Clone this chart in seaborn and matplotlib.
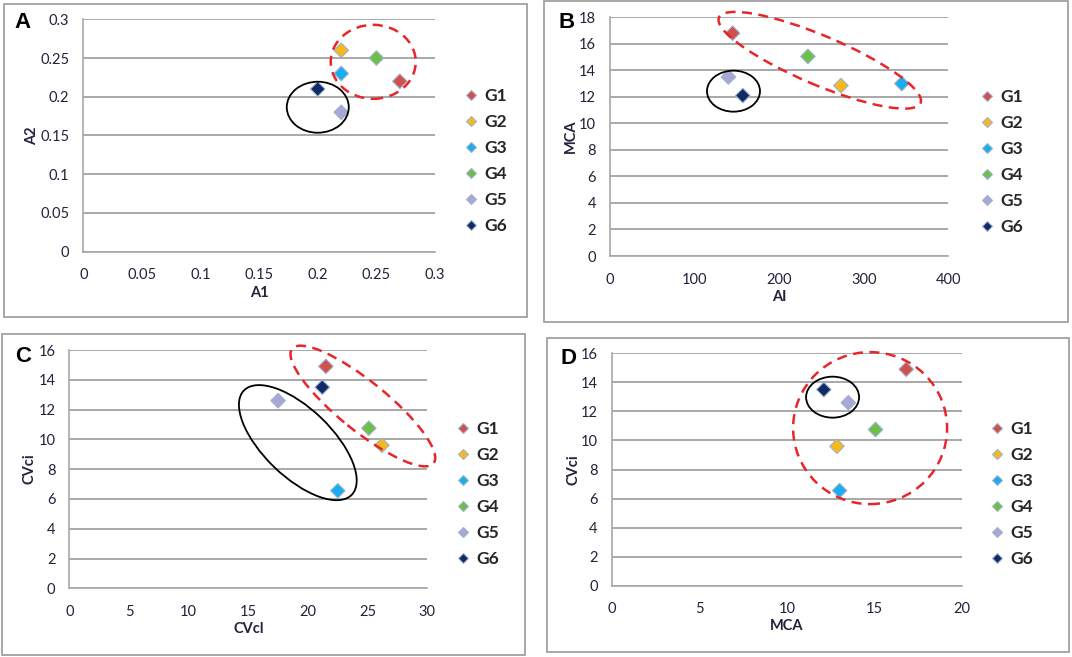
# Four scatter panels of group means with cluster ellipses
import matplotlib
matplotlib.use("Agg")
import matplotlib.pyplot as plt
import seaborn as sns
import pandas as pd
from matplotlib.patches import Ellipse, Rectangle
from matplotlib.transforms import IdentityTransform

# Data
groups = ["G1", "G2", "G3", "G4", "G5", "G6"]
a1 = [0.27, 0.22, 0.22, 0.25, 0.22, 0.20]
a2 = [0.22, 0.26, 0.23, 0.25, 0.18, 0.21]
ai = [145, 273, 345, 234, 140, 157]
mca = [16.8, 12.85, 13.0, 15.05, 13.5, 12.1]
cvcl = [21.5, 26.2, 22.5, 25.1, 17.5, 21.2]
cvci = [14.9, 9.6, 6.55, 10.75, 12.6, 13.5]

colors = ["#D0504D", "#F6B81A", "#1AADEE", "#6CC04A", "#A9A6D8", "#0F2A66"]

df = pd.DataFrame({"group": groups, "A1": a1, "A2": a2, "AI": ai,
                   "MCA": mca, "CVcl": cvcl, "CVci": cvci})

sns.set_style("white")
plt.rcParams["font.family"] = ["Lato", "DejaVu Sans"]

W, H = 1072, 657
fig = plt.figure(figsize=(W / 100, H / 100), dpi=100)

tick_color = "#22223a"
grid_color = "#a8a8a8"


def px_axes(l, t, r, b):
    return fig.add_axes([l / W, (H - b) / H, (r - l) / W, (b - t) / H])


def box(l, t, r, b):
    fig.patches.append(Rectangle((l / W, (H - b) / H), (r - l) / W, (b - t) / H,
                                 transform=fig.transFigure, fill=False,
                                 edgecolor="#a0a0a0", linewidth=1.3))


def ellipse(ax, cx, cy, w, h, ang, color, ls, lw):
    # size given in pixels so the tilt is not distorted by the axes aspect
    x, y = ax.transData.transform((cx, cy))
    e = Ellipse((x, y), w, h, angle=ang, transform=IdentityTransform(),
                fill=False, edgecolor=color, linestyle=ls, linewidth=lw,
                clip_on=False, zorder=5)
    fig.add_artist(e)


def panel(rect, xcol, ycol, xlim, ylim, xticks, yticks, fmt,
          letter, letter_xy, leg_xy, xlab_y, ylab_x):
    l, t, r, b = rect
    ax = px_axes(*rect)
    sns.scatterplot(data=df, x=xcol, y=ycol, hue="group", palette=colors,
                    marker="D", s=55, edgecolor="#9fb3cc", linewidth=0.8,
                    ax=ax, zorder=3)
    ax.set_xlim(*xlim)
    ax.set_ylim(*ylim)
    ax.set_xticks(xticks)
    ax.set_yticks(yticks)
    ax.set_xticklabels([fmt(v) for v in xticks])
    ax.set_yticklabels([fmt(v) for v in yticks])
    ax.yaxis.grid(True, color=grid_color, linewidth=1.4)
    ax.set_axisbelow(True)
    for s in ["top", "right"]:
        ax.spines[s].set_visible(False)
    for s in ["left", "bottom"]:
        ax.spines[s].set_color(grid_color)
        ax.spines[s].set_linewidth(1.2)
    ax.tick_params(axis="both", direction="out", length=5, width=1.1,
                   color=grid_color, labelsize=10.5, labelcolor=tick_color,
                   pad=5)
    ax.tick_params(axis="x", pad=7)
    ax.set_xlabel(xcol, fontsize=10.5, fontweight="bold", color=tick_color,
                  va="center")
    ax.set_ylabel(ycol, fontsize=10.5, fontweight="bold", color=tick_color,
                  va="center")
    ax.xaxis.set_label_coords(0.5, (b - xlab_y) / (b - t))
    ax.yaxis.set_label_coords((ylab_x - l) / (r - l), 0.5)
    handles, labels = ax.get_legend_handles_labels()
    for hd in handles:
        hd.set_markersize(5.5)
    ax.legend(handles, labels, loc="center left",
              bbox_to_anchor=(leg_xy[0] / W, 1 - leg_xy[1] / H),
              bbox_transform=fig.transFigure, frameon=False,
              prop={"family": ["Lato", "DejaVu Sans"], "weight": "bold",
                    "size": 12.5},
              handlelength=0.8, handletextpad=0.4, labelspacing=0.58,
              borderpad=0, borderaxespad=0)
    fig.text(letter_xy[0] / W, 1 - letter_xy[1] / H, letter,
             fontsize=16, fontweight="bold", family="Liberation Sans",
             ha="left", va="center", color="black")
    return ax


def dec(v):
    return "0" if v == 0 else ("%g" % v)


box(4, 4, 527, 317)
box(544, 1, 1068, 322)
box(2, 334, 525, 655)
box(547, 338, 1069, 652)

ax_a = panel((83.3, 19.3, 435, 251.7), "A1", "A2", (0, 0.3), (0, 0.3),
             [0, 0.05, 0.1, 0.15, 0.2, 0.25, 0.3],
             [0, 0.05, 0.1, 0.15, 0.2, 0.25, 0.3], dec,
             "A", (14, 23), (464, 161), 293, 32)
ax_b = panel((610, 17.3, 948.3, 256), "AI", "MCA", (0, 400), (0, 18),
             [0, 100, 200, 300, 400], list(range(0, 19, 2)), dec,
             "B", (558, 22), (980, 162), 297, 571)
ax_c = panel((69.3, 350, 427.3, 588.3), "CVcl", "CVci", (0, 30), (0, 16),
             list(range(0, 31, 5)), list(range(0, 17, 2)), dec,
             "C", (15, 357), (456, 494), 629, 30)
ax_d = panel((611.7, 353.3, 962.3, 585.7), "MCA", "CVci", (0, 20), (0, 16),
             list(range(0, 21, 5)), list(range(0, 17, 2)), dec,
             "D", (560, 358), (990, 494), 626, 573)

red = "#e8262a"
dash = (0, (4, 2.6))
ellipse(ax_a, 0.2473, 0.2451, 85, 74, 0, red, dash, 1.8)
ellipse(ax_a, 0.2000, 0.1865, 62, 51, 0, "black", "-", 1.3)
ellipse(ax_b, 248, 14.76, 219, 49, -23, red, dash, 1.8)
ellipse(ax_b, 146, 12.43, 53, 41, 0, "black", "-", 1.3)
ellipse(ax_c, 24.6, 12.24, 182, 49, -39, red, dash, 1.8)
ellipse(ax_c, 19.15, 9.78, 150, 68, -44, "black", "-", 1.3)
ellipse(ax_d, 14.74, 10.85, 154, 152, 0, red, dash, 1.8)
ellipse(ax_d, 12.6, 12.98, 53, 41, 0, "black", "-", 1.3)

fig.savefig("out.png", dpi=100)
